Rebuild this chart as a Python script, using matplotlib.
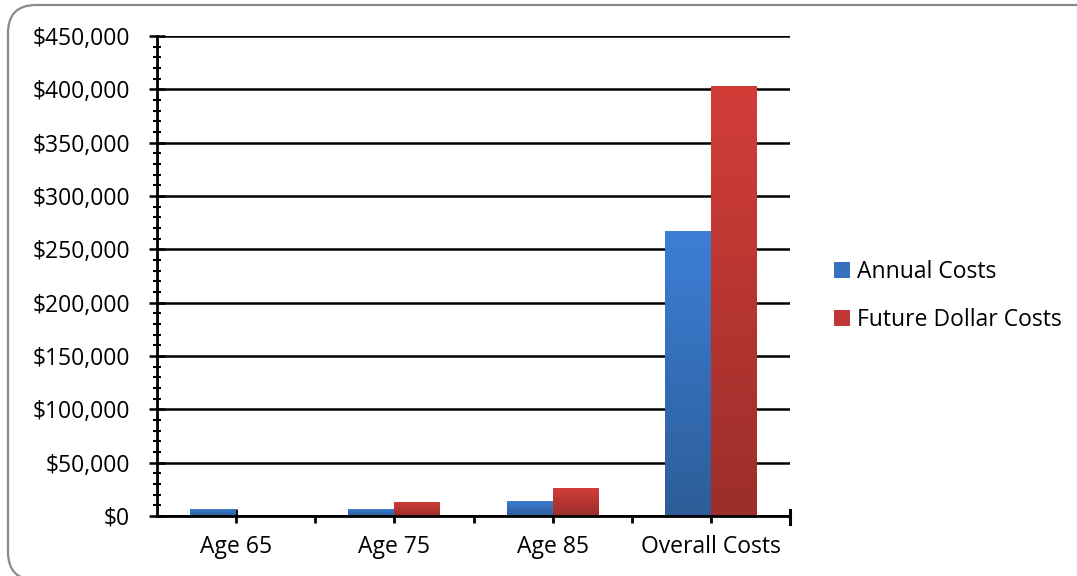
import matplotlib.pyplot as plt
import numpy as np
from matplotlib.patches import FancyBboxPatch
from matplotlib.colors import LinearSegmentedColormap
from matplotlib.ticker import FuncFormatter, MultipleLocator

categories = ["Age 65", "Age 75", "Age 85", "Overall Costs"]
annual_costs = [7000, 7000, 14500, 267000]
future_costs = [0, 13500, 26500, 403000]
series_names = ["Annual Costs", "Future Dollar Costs"]

# top / bottom colours of the bar gradients
blue_grad = ("#3d7fd6", "#2c5d98")
red_grad = ("#d23d38", "#9c2e2b")

plt.rcParams["font.family"] = ["Open Sans", "DejaVu Sans"]
FS = 16.5

fig = plt.figure(figsize=(10.77, 5.76), dpi=100)
ax = fig.add_axes([157 / 1077, 1 - 516 / 576, 633 / 1077, 480 / 576])

# rounded chart border (runs off the right/bottom edge like the original)
bx0, bx1 = 8 / 1077, 1.028
by0, by1 = 1 - 580 / 576, 1 - 5 / 576
border = FancyBboxPatch((bx0, by0), bx1 - bx0, by1 - by0,
                        boxstyle="round,pad=0,rounding_size=0.026",
                        transform=fig.transFigure, facecolor="none",
                        edgecolor="#8a8a8a", linewidth=1.6, mutation_aspect=1077 / 576)
fig.patches.append(border)

x = np.arange(len(categories))
w = 0.29
b1 = ax.bar(x - w / 2, annual_costs, w, color=blue_grad[1], label=series_names[0], zorder=3)
b2 = ax.bar(x + w / 2, future_costs, w, color=red_grad[1], label=series_names[1], zorder=3)

# vertical gradient fill for every bar
for bars, (top, bot) in ((b1, blue_grad), (b2, red_grad)):
    cmap = LinearSegmentedColormap.from_list("g", [bot, top])
    for p in bars:
        h = p.get_height()
        if h <= 0:
            continue
        x0 = p.get_x()
        grad = np.linspace(0, 1, 256).reshape(-1, 1)
        im = ax.imshow(grad, cmap=cmap, origin="lower", aspect="auto",
                       extent=(x0, x0 + p.get_width(), 0, h), zorder=3.5)
        im.set_clip_path(p)
ax.set_xlim(-0.5, len(categories) - 0.5)
ax.set_ylim(0, 450000)

ax.yaxis.set_major_locator(MultipleLocator(50000))
ax.yaxis.set_minor_locator(MultipleLocator(10000))
ax.yaxis.set_major_formatter(FuncFormatter(lambda v, _: f"${v:,.0f}"))
ax.grid(axis="y", which="major", color="black", linewidth=1.8, zorder=1)
ax.set_axisbelow(True)

ax.set_xticks(x)
ax.set_xticklabels(categories)
ax.set_xticks([0.5, 1.5, 2.5], minor=True)

for s in ("top", "right"):
    ax.spines[s].set_visible(False)
for s in ("left", "bottom"):
    ax.spines[s].set_linewidth(2)
    ax.spines[s].set_zorder(5)

ax.tick_params(axis="y", which="major", direction="inout", length=11, width=1.8, pad=14)
ax.tick_params(axis="y", which="minor", direction="inout", length=6, width=1.5)
ax.tick_params(axis="x", which="major", direction="inout", length=10, width=2, pad=9)
ax.tick_params(axis="x", which="minor", direction="out", length=5, width=2)
ax.tick_params(labelsize=FS, colors="black")

# right end tick of category axis
ax.plot([len(categories) - 0.5] * 2, [-0.016, 0.012], color="black", lw=2.2,
        transform=ax.get_xaxis_transform(), clip_on=False, zorder=6)

leg = fig.legend(handles=[b1, b2], loc="center left",
                 bbox_to_anchor=(813 / 1077, 1 - 296 / 576), frameon=False,
                 handlelength=0.7, handleheight=0.7, handletextpad=0.3,
                 labelspacing=1.05, fontsize=FS)
leg.legend_handles[0].set_facecolor("#3670bf")
leg.legend_handles[1].set_facecolor("#bf3632")

fig.savefig("out.png", dpi=100)
